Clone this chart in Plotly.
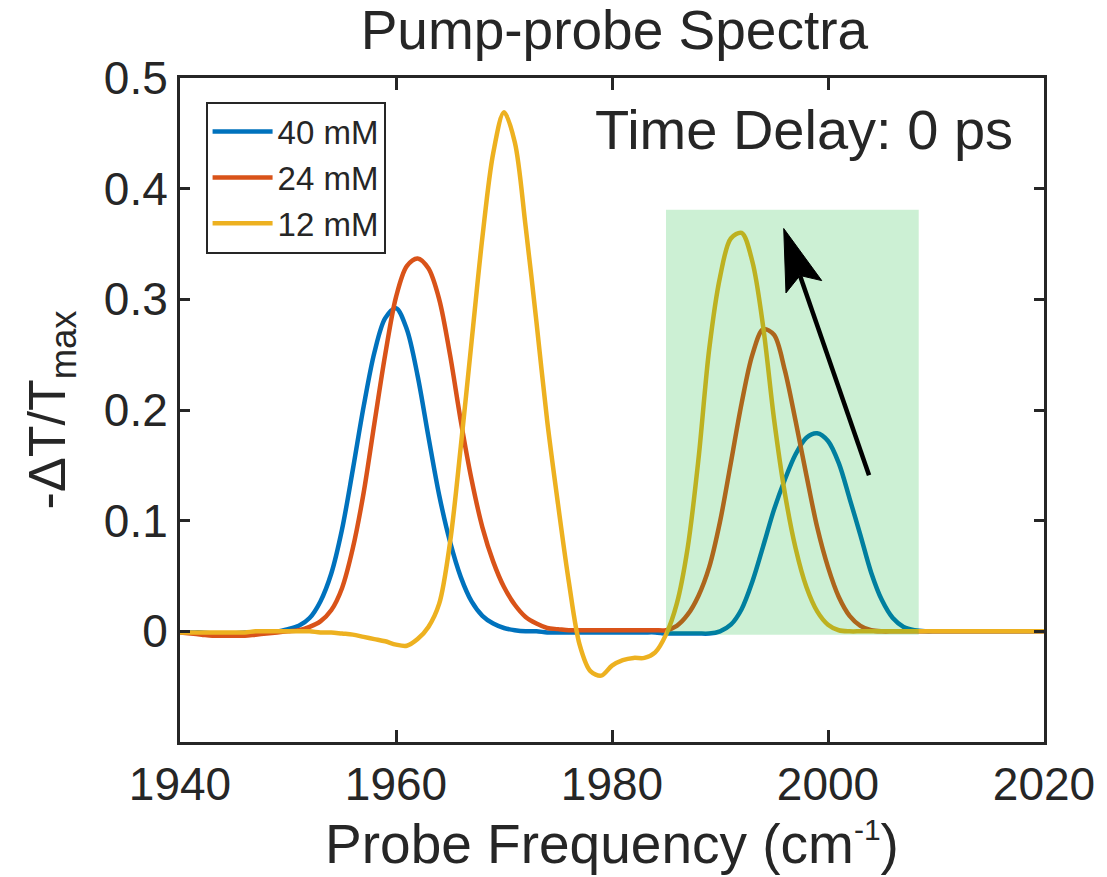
import plotly.graph_objects as go
import math

# ---------------- data ----------------
freq = list(range(1940, 2021))

c40 = [-0.001, -0.001, -0.001, -0.002, -0.002, -0.002, -0.001, -0.001, 0.000, 0.000,
       0.002, 0.005, 0.012, 0.027, 0.052, 0.092, 0.146, 0.203, 0.252, 0.283,
       0.292, 0.273, 0.231, 0.176, 0.123, 0.081, 0.049, 0.027, 0.014, 0.007,
       0.003, 0.001, 0.000, 0.000, -0.001, -0.001, -0.001, -0.001, -0.001, -0.001,
       -0.001, -0.001, -0.001, -0.001, -0.001, -0.002, -0.002, -0.002, -0.002, -0.002,
       0.000, 0.006, 0.020, 0.045, 0.077, 0.110, 0.137, 0.160, 0.175, 0.179,
       0.172, 0.152, 0.120, 0.087, 0.053, 0.028, 0.012, 0.004, 0.001, 0.000,
       0.000, 0.000, 0.000, 0.000, 0.000, 0.000, 0.000, 0.000, 0.000, 0.000,
       0.000]

c24 = [-0.001, -0.002, -0.003, -0.004, -0.004, -0.004, -0.004, -0.003, -0.002, -0.001,
       0.000, 0.001, 0.004, 0.009, 0.019, 0.039, 0.075, 0.125, 0.188, 0.250,
       0.302, 0.330, 0.337, 0.328, 0.300, 0.250, 0.190, 0.137, 0.094, 0.063,
       0.040, 0.024, 0.013, 0.007, 0.003, 0.002, 0.001, 0.001, 0.001, 0.001,
       0.001, 0.001, 0.001, 0.001, 0.001, 0.001, 0.005, 0.015, 0.032, 0.058,
       0.099, 0.152, 0.206, 0.250, 0.273, 0.268, 0.236, 0.190, 0.141, 0.094,
       0.058, 0.031, 0.014, 0.005, 0.001, 0.000, 0.000, 0.000, 0.000, 0.000,
       0.000, 0.000, 0.000, 0.000, 0.000, 0.000, 0.000, 0.000, 0.000, 0.000,
       0.000]

c12 = [-0.001, -0.001, -0.001, -0.001, -0.001, -0.001, -0.001, 0.000, 0.000, 0.000,
       0.000, 0.000, 0.000, -0.001, -0.001, -0.002, -0.003, -0.005, -0.007, -0.009,
       -0.012, -0.013, -0.007, 0.004, 0.025, 0.080, 0.167, 0.262, 0.356, 0.432,
       0.469, 0.442, 0.366, 0.280, 0.190, 0.115, 0.045, -0.012, -0.036, -0.040,
       -0.031, -0.026, -0.024, -0.024, -0.019, -0.003, 0.025, 0.075, 0.155, 0.255,
       0.320, 0.355, 0.360, 0.334, 0.275, 0.192, 0.125, 0.075, 0.040, 0.018,
       0.006, 0.001, 0.000, 0.000, 0.000, 0.000, 0.000, 0.000, 0.000, 0.000,
       0.000, 0.000, 0.000, 0.000, 0.000, 0.000, 0.000, 0.000, 0.000, 0.000,
       0.000]

series_names = ["40 mM", "24 mM", "12 mM"]
series_vals = [c40, c24, c12]
series_colors = ["#0072BD", "#D95319", "#EDB120"]

x_ticks = [1940, 1960, 1980, 2000, 2020]
y_ticks = [0, 0.1, 0.2, 0.3, 0.4, 0.5]
y_ticktext = ["0", "0.1", "0.2", "0.3", "0.4", "0.5"]

highlight_x = [1985.0, 2008.4]
highlight_y = [-0.003, 0.381]
arrow_tail = (2003.8, 0.141)
arrow_tip = (1995.9, 0.364)

# ---------------- layout constants ----------------
W, H = 1107, 877
ML, MR, MT, MB = 180, 59, 78, 131
XR = [1940, 2020]
YR = [-0.1, 0.5]
FONT = "Liberation Sans, Arial, Helvetica, sans-serif"
INK = "#262626"

fig = go.Figure()
for name, vals, col in zip(series_names, series_vals, series_colors):
    fig.add_trace(go.Scatter(
        x=freq, y=vals, name=name, mode="lines",
        line=dict(color=col, width=4.5, shape="spline", smoothing=0.9),
    ))

# green highlight box (drawn over the lines, semi-transparent)
fig.add_shape(type="rect", xref="x", yref="y",
              x0=highlight_x[0], x1=highlight_x[1], y0=highlight_y[0], y1=highlight_y[1],
              fillcolor="rgba(0,180,40,0.2)", line=dict(width=0), layer="above")

# arrow (shaft + barbed head), geometry computed in pixel space
pw = W - ML - MR
ph = H - MT - MB
sx = pw / (XR[1] - XR[0])
sy = ph / (YR[1] - YR[0])

def to_px(p):
    return ((p[0] - XR[0]) * sx, -(p[1] - YR[0]) * sy)

def to_data(q):
    return (q[0] / sx + XR[0], -q[1] / sy + YR[0])

tx, ty = to_px(arrow_tail)
hx, hy = to_px(arrow_tip)
L = math.hypot(tx - hx, ty - hy)
ux, uy = (tx - hx) / L, (ty - hy) / L
nx, ny = -uy, ux
head_len, head_half, notch = 62, 19, 50
b1 = (hx + ux * head_len + nx * head_half, hy + uy * head_len + ny * head_half)
b2 = (hx + ux * head_len - nx * head_half, hy + uy * head_len - ny * head_half)
nt = (hx + ux * notch, hy + uy * notch)

n_d = to_data(nt)
fig.add_shape(type="line", xref="x", yref="y",
              x0=arrow_tail[0], y0=arrow_tail[1], x1=n_d[0], y1=n_d[1],
              line=dict(color="black", width=4.5), layer="above")
pts = [to_data(p) for p in [(hx, hy), b1, nt, b2]]
path = "M{},{} L{},{} L{},{} L{},{} Z".format(*[c for p in pts for c in p])
fig.add_shape(type="path", xref="x", yref="y", path=path,
              fillcolor="black", line=dict(color="black", width=1), layer="above")

fig.add_annotation(text="Time Delay: 0 ps", xref="paper", yref="paper",
                   x=0.967, y=0.922, xanchor="right", yanchor="middle",
                   showarrow=False, font=dict(family=FONT, size=56, color=INK))

axis_common = dict(
    showgrid=False, zeroline=False, showline=True, linewidth=3, linecolor=INK,
    mirror="ticks", ticks="inside", tickwidth=3, tickcolor=INK,
    tickfont=dict(family=FONT, size=46, color=INK),
)

fig.update_layout(
    width=W, height=H,
    margin=dict(l=ML, r=MR, t=MT, b=MB),
    paper_bgcolor="white", plot_bgcolor="white",
    title=dict(text="Pump-probe Spectra", x=0.555, xanchor="center",
               y=0.966, yref="container", yanchor="middle",
               font=dict(family=FONT, size=55, color=INK)),
    xaxis=dict(range=XR, tickvals=x_ticks, ticklen=12,
               title=dict(text="Probe Frequency (cm<sup><span style='font-size:30px'>-1</span></sup>)",
                          standoff=16,
                          font=dict(family=FONT, size=55, color=INK)),
               **axis_common),
    yaxis=dict(range=YR, tickvals=y_ticks, ticktext=y_ticktext, ticklen=10,
               title=dict(text="-ΔT/T<sub>max</sub>", standoff=22,
                          font=dict(family=FONT, size=52, color=INK)),
               **axis_common),
    legend=dict(x=0.0296, y=0.9645, xanchor="left", yanchor="top",
                bgcolor="white", bordercolor=INK, borderwidth=2,
                itemwidth=60,
                font=dict(family=FONT, size=33, color=INK), tracegroupgap=0),
    showlegend=True,
)

fig.write_html("out.html")
